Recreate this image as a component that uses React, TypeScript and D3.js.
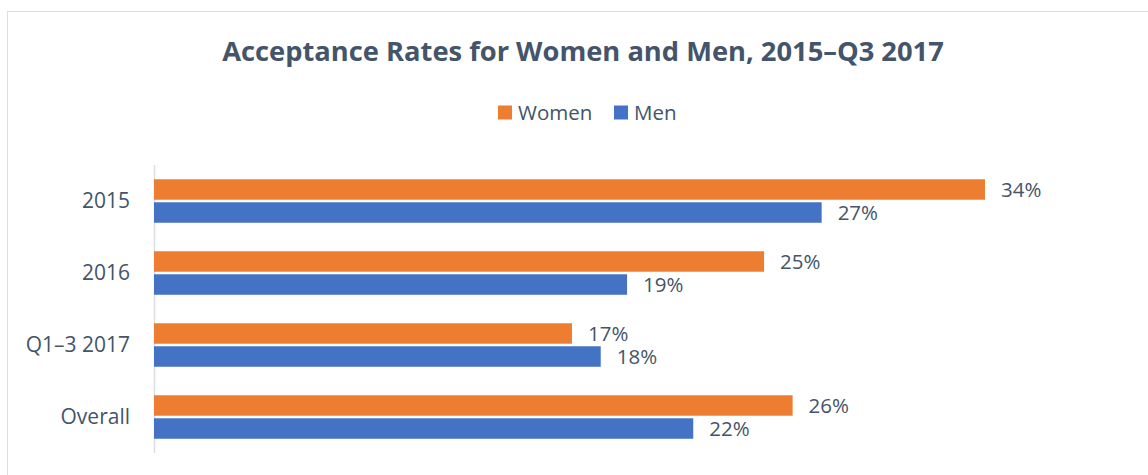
import React from 'react';
import * as d3 from 'd3';

const categories = ['2015', '2016', 'Q1–3 2017', 'Overall'];
const seriesNames = ['Women', 'Men'];
const women = [0.3378, 0.248, 0.1699, 0.2596];
const men = [0.2714, 0.1923, 0.1816, 0.2192];
const colors = ['#ED7D31', '#4472C4'];

const W = 1148;
const H = 475;
const textColor = '#44546A';
const font = "'Open Sans', 'Noto Sans', sans-serif";

function App() {
  const x = d3.scaleLinear().domain([0, 0.4]).range([154, 1138]);
  const y = d3.scaleBand().domain(categories).range([165, 453]);
  const inner = d3.scaleBand().domain(seriesNames).range([0, 43.5]).paddingInner(0.11);
  const fmt = d3.format('.0%');
  const series = [women, men];

  return (
    <svg width={W} height={H} style={{ position: 'absolute', left: 0, top: 0, background: '#fff' }}>
      <rect x={7.5} y={11.5} width={W + 20} height={H + 20} fill="#fff" stroke="#D9DEE5" strokeWidth={1} />
      <text x={583} y={61} textAnchor="middle" fontFamily={font} fontWeight={700} fontSize={27.3} fill={textColor}>
        Acceptance Rates for Women and Men, 2015–Q3 2017
      </text>

      {/* legend */}
      <g fontFamily={font} fontSize={20.5} fill={textColor}>
        <rect x={498} y={105.5} width={14} height={14} fill={colors[0]} />
        <text x={518} y={119.5}>Women</text>
        <rect x={614} y={105.5} width={14} height={14} fill={colors[1]} />
        <text x={634} y={119.5}>Men</text>
      </g>

      <line x1={154.5} x2={154.5} y1={165} y2={453} stroke="#D9DEE5" strokeWidth={1.5} />

      {categories.map((c, i) => {
        const cy = (y(c) as number) + y.bandwidth() / 2;
        const top = cy - 21.75;
        return (
          <g key={c}>
            <text x={130} y={cy} dy="0.35em" textAnchor="end" fontFamily={font} fontSize={21} fill={textColor}>
              {c}
            </text>
            {series.map((vals, s) => {
              const by = top + (inner(seriesNames[s]) as number);
              const bh = inner.bandwidth();
              return (
                <g key={s}>
                  <rect x={x(0)} y={by} width={x(vals[i]) - x(0)} height={bh} fill={colors[s]} />
                  <text x={x(vals[i]) + 16} y={by + bh / 2} dy="0.35em" fontFamily={font} fontSize={20.5} fill={textColor}>
                    {fmt(Math.round(vals[i] * 100) / 100)}
                  </text>
                </g>
              );
            })}
          </g>
        );
      })}
    </svg>
  );
}

export default App;
